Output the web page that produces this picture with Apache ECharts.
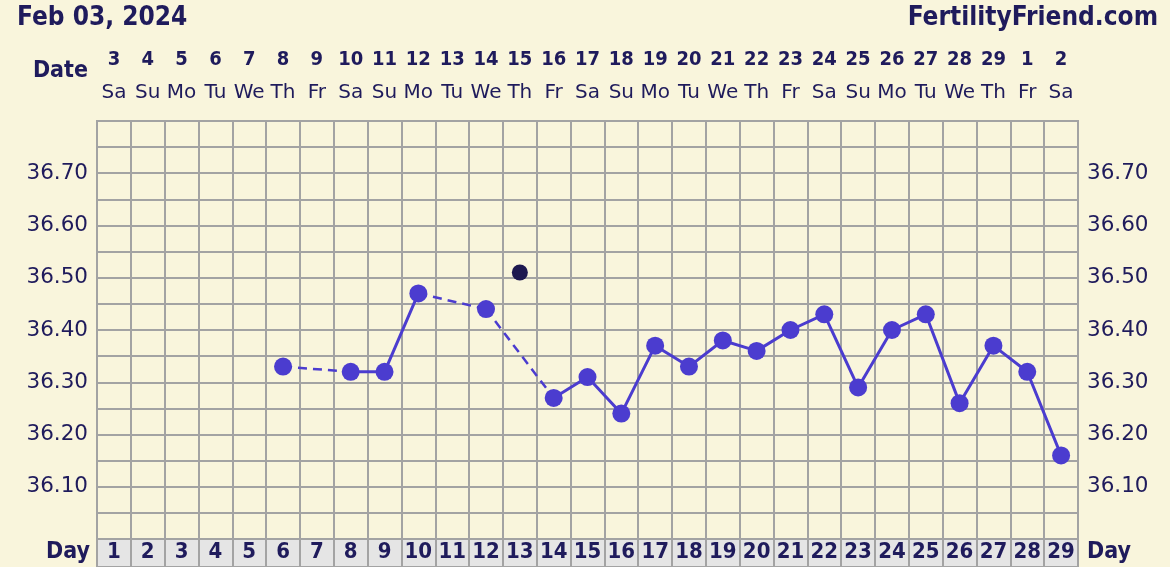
<!DOCTYPE html>
<html>
<head>
<meta charset="utf-8">
<script src="https://cdn.jsdelivr.net/npm/echarts@6/dist/echarts.min.js"></script>
<style>
html,body{margin:0;padding:0;background:#f9f5dc;}
#chart{width:1170px;height:567px;}
</style>
</head>
<body>
<div id="chart"></div>
<script>
// ---- data ----
const cycleDays = ['1','2','3','4','5','6','7','8','9','10','11','12','13','14','15','16','17','18','19','20','21','22','23','24','25','26','27','28','29'];
const dates = ['3','4','5','6','7','8','9','10','11','12','13','14','15','16','17','18','19','20','21','22','23','24','25','26','27','28','29','1','2'];
const weekdays = ['Sa','Su','Mo','Tu','We','Th','Fr','Sa','Su','Mo','Tu','We','Th','Fr','Sa','Su','Mo','Tu','We','Th','Fr','Sa','Su','Mo','Tu','We','Th','Fr','Sa'];
const temps = [null,null,null,null,null,36.33,null,36.32,36.32,36.47,null,36.44,null,36.27,36.31,36.24,36.37,36.33,36.38,36.36,36.40,36.43,36.29,36.40,36.43,36.26,36.37,36.32,36.16];
const excludedDays = ['13'];
const excludedTemps = [36.51];
const yTickLabels = ['36.10','36.20','36.30','36.40','36.50','36.60','36.70'];

// ---- styles ----
const TXT = '#1f1b5c';
const GRIDC = '#a3a3a3';
const LINEC = '#4b3ccf';
const FONT = 'DejaVu Sans';
const FONTB = 'DejaVu Sans Condensed, DejaVu Sans';

// dashed bridges over gaps
const dashSeries = [];
for (let i = 0; i < temps.length; i++) {
  if (temps[i] == null) continue;
  let j = i + 1;
  while (j < temps.length && temps[j] == null) j++;
  if (j < temps.length && j > i + 1) {
    dashSeries.push({
      type: 'line', xAxisIndex: 0, yAxisIndex: 0,
      data: [[cycleDays[i], temps[i]], [cycleDays[j], temps[j]]],
      symbol: 'none', silent: true, z: 2,
      lineStyle: {color: LINEC, width: 2.5, type: [9, 6]}
    });
  }
}

const yLabelFmt = v => {
  const s = v.toFixed(2);
  return yTickLabels.indexOf(s) >= 0 ? s : '';
};

const chart = echarts.init(document.getElementById('chart'), null, {renderer: 'canvas'});
chart.setOption({
  animation: false,
  backgroundColor: '#f9f5dc',
  title: [
    {text: 'Feb 03, 2024', left: 17, top: 5, padding: 0, textStyle: {color: TXT, fontFamily: FONTB, fontWeight: 'bold', fontSize: 26}},
    {text: 'FertilityFriend.com', right: 12, top: 5, padding: 0, textStyle: {color: TXT, fontFamily: FONTB, fontWeight: 'bold', fontSize: 26}},
    {text: 'Date', right: 1082, top: 60, padding: 0, textStyle: {color: TXT, fontFamily: FONTB, fontWeight: 'bold', fontSize: 23}},
    {text: 'Day', right: 1080, top: 541, padding: 0, textStyle: {color: TXT, fontFamily: FONTB, fontWeight: 'bold', fontSize: 23}},
    {text: 'Day', left: 1087, top: 541, padding: 0, textStyle: {color: TXT, fontFamily: FONTB, fontWeight: 'bold', fontSize: 23}}
  ],
  grid: [
    {left: 97, right: 92, top: 121, bottom: 28, show: true, borderColor: GRIDC, borderWidth: 2, backgroundColor: '#f9f5dc'},
    {left: 97, right: 92, top: 539, height: 28, show: true, borderColor: GRIDC, borderWidth: 2, backgroundColor: '#e5e5e5'}
  ],
  xAxis: [
    {type: 'category', gridIndex: 0, data: cycleDays, boundaryGap: true, position: 'bottom',
     axisLine: {show: false}, axisTick: {show: false}, axisLabel: {show: false},
     splitLine: {show: true, lineStyle: {color: GRIDC, width: 2}}},
    {type: 'category', gridIndex: 0, data: cycleDays, boundaryGap: true, position: 'top',
     axisLine: {show: false}, axisTick: {show: false},
     axisLabel: {show: true, interval: 0, margin: 12,
       formatter: (v, i) => '{d|' + dates[i] + '}\n{w|' + weekdays[i] + '}',
       rich: {
         d: {color: TXT, fontFamily: FONTB, fontWeight: 'bold', fontSize: 20, lineHeight: 33},
         w: {color: TXT, fontFamily: FONT, fontWeight: 'normal', fontSize: 20, lineHeight: 33}
       }},
     splitLine: {show: false}},
    {type: 'category', gridIndex: 1, data: cycleDays, boundaryGap: true, position: 'top',
     axisLine: {show: false}, axisTick: {show: false},
     axisLabel: {show: true, inside: true, interval: 0, margin: 2, color: TXT, fontFamily: FONTB, fontWeight: 'bold', fontSize: 22},
     splitLine: {show: true, lineStyle: {color: GRIDC, width: 2}}}
  ],
  yAxis: [
    {type: 'value', gridIndex: 0, min: 36.0, max: 36.8, interval: 0.05, position: 'left',
     axisLine: {show: false}, axisTick: {show: false},
     axisLabel: {margin: 9, color: TXT, fontFamily: FONT, fontSize: 21.5, formatter: yLabelFmt},
     splitLine: {show: true, lineStyle: {color: GRIDC, width: 2}}},
    {type: 'value', gridIndex: 0, min: 36.0, max: 36.8, interval: 0.05, position: 'right',
     axisLine: {show: false}, axisTick: {show: false},
     axisLabel: {margin: 9, color: TXT, fontFamily: FONT, fontSize: 21.5, formatter: yLabelFmt},
     splitLine: {show: false}},
    {type: 'value', gridIndex: 1, min: 0, max: 1, show: false}
  ],
  series: [
    {type: 'line', xAxisIndex: 0, yAxisIndex: 0, data: temps, connectNulls: false,
     symbol: 'circle', symbolSize: 18, showAllSymbol: true, z: 3,
     lineStyle: {color: LINEC, width: 3}, itemStyle: {color: LINEC}},
    ...dashSeries,
    {type: 'scatter', xAxisIndex: 0, yAxisIndex: 0,
     data: excludedDays.map((d, k) => [d, excludedTemps[k]]),
     symbol: 'circle', symbolSize: 16, z: 4, itemStyle: {color: '#1d1850', opacity: 1}}
  ]
});
</script>
</body>
</html>
